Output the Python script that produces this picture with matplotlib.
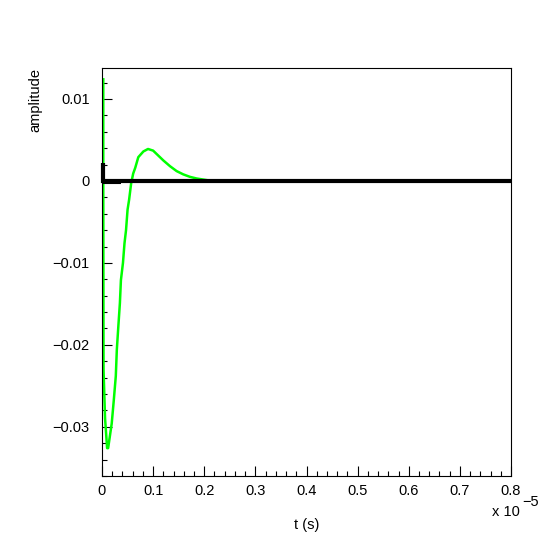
import matplotlib
matplotlib.use("Agg")
import matplotlib.pyplot as plt
from matplotlib.ticker import MultipleLocator, FuncFormatter

plt.rcParams['font.family'] = ['Liberation Sans', 'DejaVu Sans']

# time in units of 1e-5 s
t_green = [0.0025, 0.0025, 0.0025, 0.003, 0.006, 0.010, 0.012, 0.019, 0.023, 0.027,
           0.029, 0.032, 0.035, 0.037, 0.041, 0.044, 0.047, 0.050, 0.053, 0.057,
           0.061, 0.065, 0.071, 0.081, 0.090, 0.100, 0.110, 0.120, 0.133, 0.146,
           0.159, 0.172, 0.185, 0.205]
a_green = [0.0124, 0.0095, -0.0003, -0.0230, -0.0290, -0.0326, -0.0326, -0.0296, -0.0268, -0.0238,
           -0.0206, -0.0177, -0.0149, -0.0121, -0.0100, -0.0076, -0.0060, -0.0035, -0.0023, -0.0003,
           0.0009, 0.0016, 0.0029, 0.0036, 0.0039, 0.0037, 0.0031, 0.0025, 0.0018, 0.0012,
           0.0008, 0.0005, 0.0003, 0.0001]

t_black = [0.001, 0.001, 0.8]
a_black = [0.0022, 0.0, 0.0]
# small undershoot just after the spike
t_dip = [0.001, 0.038]
a_dip = [-0.00025, -0.00025]

fig = plt.figure(figsize=(5.46, 5.46), dpi=100)
ax = fig.add_axes([102/546, 1 - 476/546, 409/546, 408/546])

ax.plot(t_green, a_green, color='#00ff00', lw=1.8)
ax.plot(t_dip, a_dip, color='black', lw=1.5, solid_capstyle='butt')
ax.plot(t_black, a_black, color='black', lw=3.0, solid_joinstyle='miter',
        solid_capstyle='butt', clip_on=False)

ax.set_xlim(0, 0.8)
ax.set_ylim(-0.036, 0.01378)

ax.xaxis.set_major_locator(MultipleLocator(0.1))
ax.xaxis.set_minor_locator(MultipleLocator(0.02))
ax.yaxis.set_major_locator(MultipleLocator(0.01))
ax.yaxis.set_minor_locator(MultipleLocator(0.002))

ax.xaxis.set_major_formatter(FuncFormatter(lambda v, p: '0' if abs(v) < 1e-9 else ('%.1f' % v)))
ax.yaxis.set_major_formatter(FuncFormatter(lambda v, p: '0' if abs(v) < 1e-9 else ('%.2f' % v).replace('-', '\u2212')))

ax.tick_params(which='both', direction='in', top=False, right=False, width=0.8, labelsize=10.5)
ax.tick_params(which='major', length=7.5)
ax.tick_params(which='minor', length=3.8)
ax.tick_params(axis='x', pad=6)
ax.tick_params(axis='y', pad=9)
for s in ax.spines.values():
    s.set_linewidth(0.8)

ax.text(0.5, -0.103, 't (s)', transform=ax.transAxes, ha='center', va='top', fontsize=10.5)
ax.text(-0.164, 1.0, 'amplitude', transform=ax.transAxes, rotation=90, ha='center', va='top', fontsize=10.5)

# multiplier
fig.text(520/546, 1 - 516/546, 'x 10', ha='right', va='baseline', fontsize=10.5)
fig.text(522/546, 1 - 506/546, '\u22125', ha='left', va='baseline', fontsize=10.5)

fig.savefig('out.png', dpi=100, facecolor='white')
